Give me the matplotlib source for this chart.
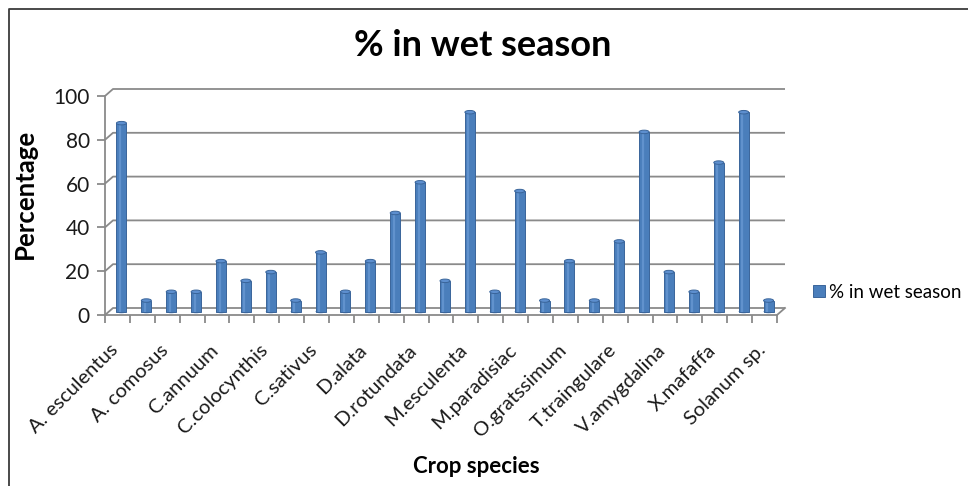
import numpy as np
import matplotlib
matplotlib.use("Agg")
import matplotlib.pyplot as plt
from matplotlib.lines import Line2D
from matplotlib.patches import Ellipse

# values (27 crops, only every other one is labelled)
shown_labels = ["A. esculentus", "A. comosus", "C.annuum", "C.colocynthis",
                "C.sativus", "D.alata", "D.rotundata", "M.esculenta",
                "M.paradisiac", "O.gratssimum", "T.traingulare",
                "V.amygdalina", "X.mafaffa", "Solanum sp."]
wet_pct = [86, 5, 9, 9, 23, 14, 18, 5, 27, 9, 23, 45, 59, 14, 91,
           9, 55, 5, 23, 5, 32, 82, 18, 9, 68, 91, 5]
y_ticks = [0, 20, 40, 60, 80, 100]

plt.rcParams["font.family"] = ["Lato", "DejaVu Sans"]

W, H = 968, 486
fig = plt.figure(figsize=(W / 100, H / 100), dpi=100)

# front plane of the pseudo-3D plot, in pixels
x0, x1, y_top, y_bot = 105, 777, 96, 315
ax = fig.add_axes([x0 / W, 1 - y_bot / H, (x1 - x0) / W, (y_bot - y_top) / H])
n = len(wet_pct)
ax.set_xlim(0, n)
ax.set_ylim(0, 100)
ax.set_facecolor("none")

# depth offset (px -> data units)
px_x = (x1 - x0) / n
px_y = (y_bot - y_top) / 100
ddx = 8 / px_x
ddy = 7 / px_y

grid_c = "#8a8a8a"
for v in y_ticks:
    ax.plot([0, ddx, n + ddx], [v, v + ddy, v + ddy], color=grid_c, lw=1.3,
            clip_on=False, zorder=1, solid_capstyle="butt")
# floor edge on the right
ax.plot([n, n + ddx], [0, ddy], color=grid_c, lw=1.3, clip_on=False, zorder=1)

# bars (cylinder-ish, sitting half way in depth)
bw = 10 / px_x
xc = np.arange(n) + 0.5 + ddx / 2
base = ddy / 2
bars = ax.bar(xc, wet_pct, width=bw, bottom=base, color="#4a7ebb",
              edgecolor="#3a659a", lw=0.7, zorder=3, label="% in wet season")
for x, v in zip(xc, wet_pct):
    ax.add_patch(Ellipse((x, v + base), bw, 3.5 / px_y, facecolor="#5d8fcf",
                         edgecolor="#3a659a", lw=0.7, zorder=4, clip_on=False))
    ax.add_patch(Ellipse((x, base), bw, 3.5 / px_y, facecolor="#4a7ebb",
                         edgecolor="none", zorder=2, clip_on=False))
    ax.plot([x - bw * 0.15, x - bw * 0.15], [base, v + base], color="#6c9bd6",
            lw=1.6, zorder=3.5, alpha=0.7, solid_capstyle="butt")

for side in ["top", "right"]:
    ax.spines[side].set_visible(False)
for side in ["left", "bottom"]:
    ax.spines[side].set_color(grid_c)
    ax.spines[side].set_linewidth(1.3)

ax.set_yticks(y_ticks)
ax.tick_params(axis="y", direction="out", length=6, width=1.3, color=grid_c,
               pad=5, labelsize=15, labelcolor="#1a1a1a")
ax.set_xticks(np.arange(n + 1))
ax.set_xticklabels([])
ax.tick_params(axis="x", which="major", direction="out", length=6, width=1.3,
               color=grid_c)
ax.set_xticks(xc[::2], minor=True)
ax.set_xticklabels(shown_labels, minor=True, rotation=45, ha="right",
                   fontsize=14.5)
ax.tick_params(axis="x", which="minor", length=0, pad=19, labelcolor="#1a1a1a")

ax.set_ylabel("Percentage", fontsize=18.5, fontweight="bold")
ax.yaxis.set_label_coords((37 - x0) / (x1 - x0), (y_bot - 194) / (y_bot - y_top))
ax.set_xlabel("Crop species", fontsize=16, fontweight="bold")
ax.xaxis.set_label_coords((476 - x0) / (x1 - x0), (y_bot - 466) / (y_bot - y_top))
ax.xaxis.label.set_va("center")

fig.text(483 / W, 1 - 45 / H, "% in wet season", ha="center", va="center",
         fontsize=26, fontweight="bold")

ax.legend(handles=[bars], loc="center left", frameon=False,
          bbox_to_anchor=(813 / W, 1 - 292 / H), bbox_transform=fig.transFigure,
          borderaxespad=0, borderpad=0, handlelength=0.65, handleheight=0.65,
          handletextpad=0.2, fontsize=13.5)

# outer chart frame (top and left edges visible)
fig.add_artist(Line2D([9 / W, 9 / W, 1], [0, 1 - 9 / H, 1 - 9 / H],
                      color="#3c3c3c", lw=1.3))

fig.savefig("out.png", dpi=100)
